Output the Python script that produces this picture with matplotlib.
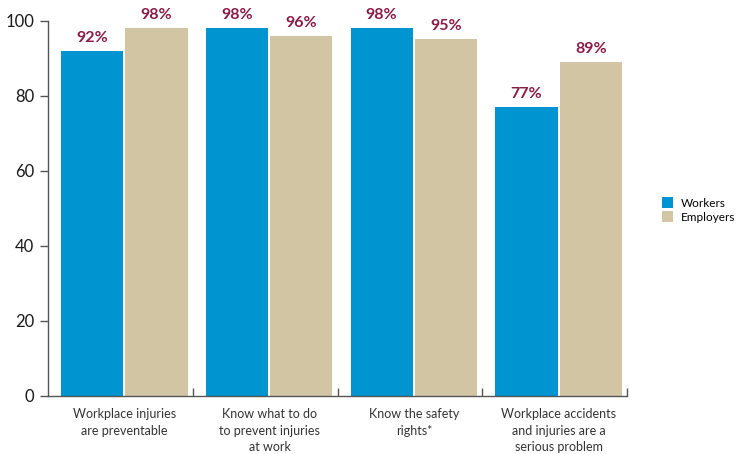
import numpy as np
import matplotlib
matplotlib.use("Agg")
from matplotlib import pyplot as plt

# data
categories = ["Workplace injuries\nare preventable",
              "Know what to do\nto prevent injuries\nat work",
              "Know the safety\nrights*",
              "Workplace accidents\nand injuries are a\nserious problem"]
workers = [92, 98, 98, 77]
employers = [98, 96, 95, 89]

BLUE = "#0095D0"
TAN = "#D2C5A4"
MAROON = "#8A1C48"
GREY = "#555555"

plt.rcParams['font.family'] = ['Lato', 'DejaVu Sans']

fig = plt.figure(figsize=(7.49, 4.54), dpi=100)
ax = fig.add_axes([48/749, 1-396/454, (627-48)/749, (396-20.5)/454])

x = np.arange(len(categories))
w = 0.43
b1 = ax.bar(x - 0.195, workers, w, color=BLUE, label="Workers")
b2 = ax.bar(x + 0.25, employers, w, color=TAN, label="Employers")

for bars in (b1, b2):
    for r in bars:
        ax.text(r.get_x() + r.get_width()/2, r.get_height() + 1.6, f"{int(r.get_height())}%",
                ha="center", va="bottom", color=MAROON, fontweight="bold", fontsize=11.5)

ax.set_xlim(-0.5, 3.5)
ax.set_ylim(0, 100)
ax.set_yticks([0, 20, 40, 60, 80, 100])
ax.tick_params(axis="y", labelsize=12, length=6, color=GREY, width=1, labelcolor="#1a1a1a", pad=4)

# category boundary ticks pointing up
ax.set_xticks([0.5, 1.5, 2.5, 3.5])
ax.set_xticklabels([])
ax.tick_params(axis="x", direction="in", length=6, color=GREY, width=1)
for i, c in enumerate(categories):
    ax.text(i + 0.03, -3.3, c, ha="center", va="top", fontsize=9, color="#333333",
            linespacing=1.45, transform=ax.transData)

for s in ("top", "right"):
    ax.spines[s].set_visible(False)
for s in ("left", "bottom"):
    ax.spines[s].set_color(GREY)
    ax.spines[s].set_linewidth(1)

fig.legend(handles=[b1, b2], labels=["Workers", "Employers"], loc="center left",
           bbox_to_anchor=(651/749, 1-210/454), frameon=False, fontsize=8.5,
           handlelength=1.0, handleheight=1.0, handletextpad=0.6, labelspacing=0.25)

fig.savefig("out.png", dpi=100)
